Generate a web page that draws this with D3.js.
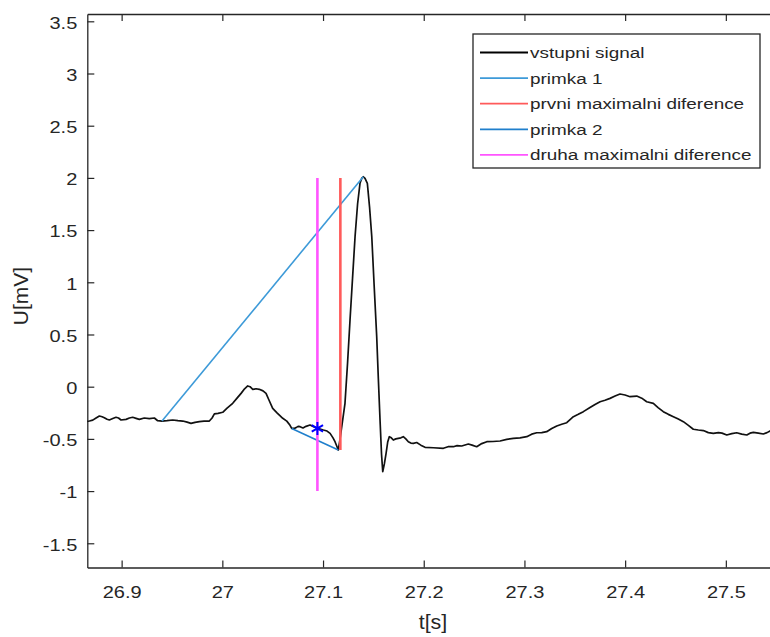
<!DOCTYPE html>
<html>
<head>
<meta charset="utf-8">
<script src="https://cdn.jsdelivr.net/npm/d3@7"></script>
<style>
  html, body { margin: 0; padding: 0; background: #fff; }
  svg { display: block; }
  text { font-family: "Liberation Sans", Arial, sans-serif; fill: #262626; }
</style>
</head>
<body>
<svg id="chart" width="770" height="637"></svg>
<script>
// ECG input signal: time [s] and voltage [mV]
const tSignal = [
  26.8647, 26.8680, 26.8713, 26.8746, 26.8779, 26.8806, 26.8828, 26.8855, 26.8878, 26.8912,
  26.8944, 26.8969, 26.8994, 26.9044, 26.9077, 26.9110, 26.9143, 26.9176, 26.9225, 26.9275,
  26.9325, 26.9358, 26.9401, 26.9451, 26.9507, 26.9559, 26.9607, 26.9650, 26.9689, 26.9729,
  26.9772, 26.9818, 26.9871, 26.9898, 26.9921, 26.9957, 27.0004, 27.0047, 27.0103, 27.0146,
  27.0186, 27.0221, 27.0252, 27.0275, 27.0302, 27.0335, 27.0367, 27.0404, 27.0434, 27.0464,
  27.0500, 27.0543, 27.0600, 27.0640, 27.0672, 27.0689, 27.0712, 27.0732, 27.0752, 27.0772,
  27.0801, 27.0831, 27.0871, 27.0901, 27.0937, 27.0970, 27.1003, 27.1040, 27.1070, 27.1099,
  27.1119, 27.1137, 27.1152, 27.1169, 27.1189, 27.1218, 27.1243, 27.1268, 27.1293, 27.1318,
  27.1343, 27.1367, 27.1384, 27.1400, 27.1417, 27.1440, 27.1462, 27.1484, 27.1508, 27.1533,
  27.1549, 27.1566, 27.1581, 27.1593, 27.1609, 27.1626, 27.1642, 27.1658, 27.1678, 27.1698,
  27.1723, 27.1748, 27.1773, 27.1797, 27.1822, 27.1847, 27.1872, 27.1897, 27.1930, 27.1971,
  27.2013, 27.2095, 27.2195, 27.2241, 27.2294, 27.2331, 27.2377, 27.2443, 27.2480, 27.2526,
  27.2576, 27.2626, 27.2688, 27.2758, 27.2824, 27.2890, 27.2956, 27.3023, 27.3072, 27.3122,
  27.3172, 27.3221, 27.3271, 27.3321, 27.3370, 27.3420, 27.3453, 27.3486, 27.3535, 27.3585,
  27.3651, 27.3701, 27.3751, 27.3800, 27.3850, 27.3900, 27.3949, 27.3999, 27.4049, 27.4115,
  27.4165, 27.4214, 27.4280, 27.4327, 27.4379, 27.4429, 27.4479, 27.4528, 27.4578, 27.4628,
  27.4677, 27.4727, 27.4777, 27.4826, 27.4876, 27.4926, 27.4962, 27.5009, 27.5059, 27.5108,
  27.5158, 27.5208, 27.5240, 27.5273, 27.5323, 27.5372, 27.5409, 27.5439, 27.5480
];
const uSignal = [
  -0.335, -0.329, -0.320, -0.300, -0.281, -0.288, -0.297, -0.312, -0.319, -0.305,
  -0.293, -0.300, -0.319, -0.313, -0.300, -0.293, -0.303, -0.313, -0.300, -0.306,
  -0.300, -0.326, -0.329, -0.325, -0.319, -0.325, -0.329, -0.340, -0.351, -0.342,
  -0.335, -0.330, -0.329, -0.300, -0.261, -0.255, -0.245, -0.205, -0.159, -0.110,
  -0.064, -0.020, 0.007, 0.000, -0.025, -0.020, -0.025, -0.040, -0.064, -0.130,
  -0.207, -0.250, -0.303, -0.330, -0.370, -0.400, -0.400, -0.392, -0.380, -0.383,
  -0.395, -0.380, -0.367, -0.380, -0.395, -0.405, -0.415, -0.425, -0.447, -0.490,
  -0.527, -0.570, -0.606, -0.500, -0.360, -0.159, 0.220, 0.639, 1.040, 1.437,
  1.750, 1.948, 1.995, 2.011, 1.995, 1.948, 1.720, 1.437, 0.960, 0.479,
  0.080, -0.319, -0.650, -0.814, -0.740, -0.638, -0.530, -0.479, -0.490, -0.511,
  -0.500, -0.495, -0.490, -0.479, -0.500, -0.527, -0.540, -0.543, -0.535, -0.560,
  -0.581, -0.585, -0.590, -0.575, -0.575, -0.565, -0.568, -0.549, -0.560, -0.575,
  -0.545, -0.527, -0.525, -0.520, -0.505, -0.495, -0.490, -0.479, -0.455, -0.441,
  -0.440, -0.431, -0.400, -0.376, -0.360, -0.345, -0.315, -0.287, -0.265, -0.239,
  -0.200, -0.170, -0.144, -0.130, -0.112, -0.090, -0.070, -0.080, -0.096, -0.090,
  -0.110, -0.144, -0.160, -0.200, -0.239, -0.265, -0.287, -0.310, -0.335, -0.370,
  -0.408, -0.415, -0.420, -0.440, -0.447, -0.440, -0.445, -0.463, -0.450, -0.441,
  -0.455, -0.463, -0.445, -0.437, -0.445, -0.453, -0.440, -0.424, -0.430
];

// first line: baseline point to R-peak
const tLine1 = [26.9401, 27.1400];
const uLine1 = [-0.329, 2.011];
// second line: P-wave end to Q point
const tLine2 = [27.0689, 27.1152];
const uLine2 = [-0.400, -0.606];
// vertical markers of the maximal differences
const tDiff1 = 27.1172, uDiff1 = [2.0, -0.606];
const tDiff2 = 27.0944, uDiff2 = [2.0, -1.0];
// detected point
const tPoint = [27.0944], uPoint = [-0.400];

const xTicks = [26.9, 27.0, 27.1, 27.2, 27.3, 27.4, 27.5];
const yTicks = [-1.5, -1, -0.5, 0, 0.5, 1, 1.5, 2, 2.5, 3, 3.5];

const legendLabels = ["vstupni signal", "primka 1", "prvni maximalni diference", "primka 2", "druha maximalni diference"];
const legendColors = ["#000000", "#3d9ad8", "#ff5a5a", "#1f7fcc", "#ff55ff"];

const svg = d3.select("#chart");
const plotLeft = 87.3, plotTop = 14, plotBottom = 567.5, plotWidth = 704.9;
const x = d3.scaleLinear().domain([26.8659, 27.5659]).range([plotLeft, plotLeft + plotWidth]);
const y = d3.scaleLinear().domain([-1.732, 3.57]).range([plotBottom, plotTop]);

svg.append("defs").append("clipPath").attr("id", "plotclip")
  .append("rect").attr("x", plotLeft).attr("y", plotTop)
  .attr("width", plotWidth).attr("height", plotBottom - plotTop);

const axisColor = "#262626";
const tickFont = 16;
const textStretch = 1.25;   // glyphs are drawn slightly wide
const plainNumber = d => String(+d.toFixed(1));   // hyphen-minus, no trailing zeros

// axes
const xAxis = svg.append("g").attr("transform", `translate(0,${plotBottom})`)
  .call(d3.axisBottom(x).tickValues(xTicks).tickSizeInner(-7).tickSizeOuter(0)
    .tickPadding(19).tickFormat(plainNumber));
const xTop = svg.append("g").attr("transform", `translate(0,${plotTop})`)
  .call(d3.axisTop(x).tickValues(xTicks).tickSizeInner(-7).tickSizeOuter(0).tickFormat(""));
const yAxis = svg.append("g").attr("transform", `translate(${plotLeft},0)`)
  .call(d3.axisLeft(y).tickValues(yTicks).tickSizeInner(-7).tickSizeOuter(0)
    .tickPadding(10).tickFormat(plainNumber));

[xAxis, xTop, yAxis].forEach(g => {
  g.select(".domain").attr("stroke", axisColor).attr("stroke-width", 1.3);
  g.selectAll(".tick line").attr("stroke", axisColor).attr("stroke-width", 1.2);
  g.selectAll(".tick text").attr("font-size", tickFont).attr("fill", axisColor)
    .style("font-family", "'Liberation Sans', Arial, sans-serif")
    .attr("transform", `scale(${textStretch},1)`);
});
yAxis.selectAll(".tick text").attr("x", -10 / textStretch).attr("dy", "0.42em");

// axis labels
svg.append("text").attr("transform", `translate(433,629) scale(1.1,1)`)
  .attr("text-anchor", "middle").attr("font-size", 19.5).text("t[s]");
svg.append("text").attr("transform", `translate(28,296) rotate(-90)`)
  .attr("text-anchor", "middle").attr("font-size", 21).text("U[mV]");

const plot = svg.append("g").attr("clip-path", "url(#plotclip)");

const line = d3.line().x(d => x(d[0])).y(d => y(d[1]));

plot.append("path").datum(d3.zip(tSignal, uSignal)).attr("d", line)
  .attr("fill", "none").attr("stroke", "#111").attr("stroke-width", 1.7)
  .attr("stroke-linejoin", "round");

plot.append("path").datum(d3.zip(tLine1, uLine1)).attr("d", line)
  .attr("fill", "none").attr("stroke", legendColors[1]).attr("stroke-width", 1.6);

plot.append("line").attr("x1", x(tDiff1)).attr("x2", x(tDiff1))
  .attr("y1", y(uDiff1[0])).attr("y2", y(uDiff1[1]))
  .attr("stroke", legendColors[2]).attr("stroke-width", 2.6);

plot.append("path").datum(d3.zip(tLine2, uLine2)).attr("d", line)
  .attr("fill", "none").attr("stroke", legendColors[3]).attr("stroke-width", 1.6);

plot.append("line").attr("x1", x(tDiff2)).attr("x2", x(tDiff2))
  .attr("y1", y(uDiff2[0])).attr("y2", y(uDiff2[1]))
  .attr("stroke", legendColors[4]).attr("stroke-width", 2.6);

// asterisk marker
const star = d3.symbol().type(d3.symbolAsterisk).size(120);
plot.selectAll(".pt").data(d3.zip(tPoint, uPoint)).join("path")
  .attr("transform", d => `translate(${x(d[0])},${y(d[1])})`)
  .attr("d", star).attr("fill", "none").attr("stroke", "#0000ff").attr("stroke-width", 2);

// legend
const lg = svg.append("g");
lg.append("rect").attr("x", 473).attr("y", 34).attr("width", 287).attr("height", 134)
  .attr("fill", "#fff").attr("stroke", axisColor).attr("stroke-width", 1.3);
legendLabels.forEach((lab, i) => {
  const yy = 52.5 + i * 25.6;
  lg.append("line").attr("x1", 480).attr("x2", 528).attr("y1", yy).attr("y2", yy)
    .attr("stroke", legendColors[i]).attr("stroke-width", 1.8);
  lg.append("text").attr("transform", `translate(530,${yy}) scale(1.22,1)`)
    .attr("dy", "0.35em").attr("font-size", 15.5).attr("fill", "#111").text(lab);
});
</script>
</body>
</html>
